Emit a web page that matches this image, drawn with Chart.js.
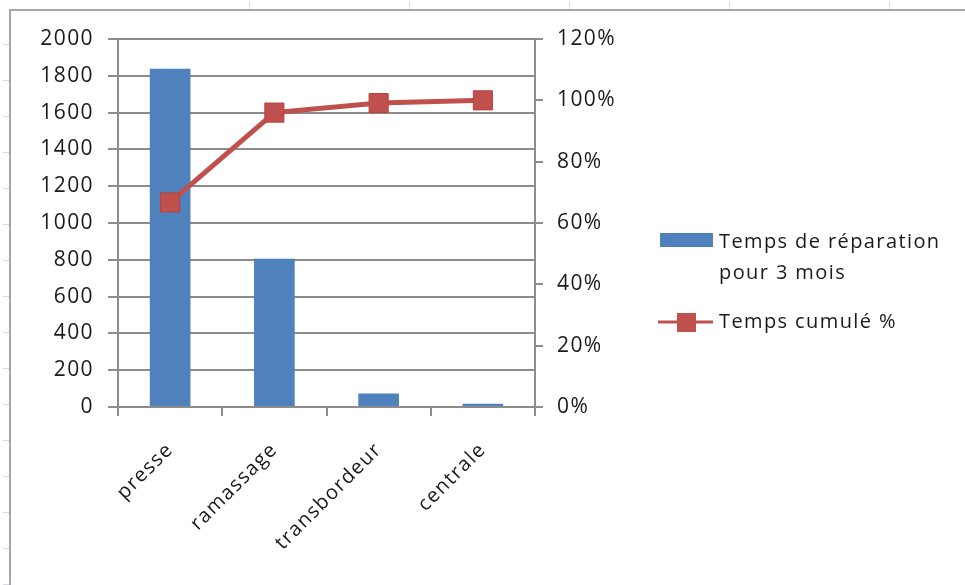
<!DOCTYPE html>
<html>
<head>
<meta charset="utf-8">
<script src="https://cdn.jsdelivr.net/npm/chart.js@4"></script>
<style>
  html, body { margin: 0; padding: 0; background: #fff; }
  #wrap { width: 965px; height: 585px; position: relative; }
</style>
</head>
<body>
<div id="wrap"><canvas id="diagram" width="965" height="585"></canvas></div>
<script>
const categories = ["presse", "ramassage", "transbordeur", "centrale"];
const repairTime = [1838, 806, 74, 18];
const cumulPercent = [66.7, 96.0, 99.1, 100];
const leftTicks = [0, 200, 400, 600, 800, 1000, 1200, 1400, 1600, 1800, 2000];
const rightTicks = [0, 20, 40, 60, 80, 100, 120];

const barLabel = ["Temps de réparation", "pour 3 mois"];
const lineLabel = "Temps cumulé %";

const blue = "#4F81BD";
const red = "#C0504D";
const axisGray = "#8c8c8c";
const textColor = "#1a1a1a";
const font = "'Open Sans', sans-serif";
const fontSize = 20;
const tickSize = 21;
const spacing = "1.4px";

// sheet background: cell marks and the chart frame
const sheetPlugin = {
    id: "sheet",
    beforeInit(chart) {
        chart.ctx.letterSpacing = spacing;
    },
    beforeDraw(chart) {
        const c = chart.ctx;
        c.letterSpacing = spacing;
        c.save();
        c.fillStyle = "#fff";
        c.fillRect(0, 0, chart.width, chart.height);
        c.strokeStyle = "#d4dae6";
        c.lineWidth = 1;
        for (let x = 249; x < 965; x += 160) {
            c.beginPath(); c.moveTo(x + 0.5, 2); c.lineTo(x + 0.5, 10); c.stroke();
        }
        for (let y = 44; y < 585; y += 36) {
            c.beginPath(); c.moveTo(3, y + 0.5); c.lineTo(9, y + 0.5); c.stroke();
        }
        c.strokeStyle = "#a6a6a6";
        c.lineWidth = 2;
        c.beginPath();
        c.moveTo(10, 585); c.lineTo(10, 10); c.lineTo(965, 10);
        c.stroke();
        c.restore();
    },
};

// legend drawn by hand so the first label can wrap
const legendPlugin = {
    id: "sideLegend",
    afterDraw(chart) {
        const c = chart.ctx;
        c.save();
        c.font = fontSize + "px " + font;
        c.textBaseline = "middle";
        c.textAlign = "left";
        c.fillStyle = blue;
        c.fillRect(660, 233, 53, 14);
        c.fillStyle = textColor;
        c.fillText(barLabel[0], 719, 242);
        c.fillText(barLabel[1], 719, 273);
        c.strokeStyle = red;
        c.lineWidth = 3;
        c.beginPath(); c.moveTo(658, 322); c.lineTo(713, 322); c.stroke();
        c.fillStyle = red;
        c.fillRect(677, 313, 19, 19);
        c.fillStyle = textColor;
        c.fillText(lineLabel, 719, 322);
        c.restore();
    },
};

new Chart(document.getElementById("diagram"), {
    data: {
        labels: categories,
        datasets: [
            {
                type: "line",
                label: lineLabel,
                data: cumulPercent,
                yAxisID: "y1",
                borderColor: red,
                backgroundColor: red,
                borderWidth: 5,
                pointStyle: "rect",
                pointRadius: 13.5,
                pointBorderWidth: 1,
                pointBackgroundColor: red,
                pointBorderColor: "#b9413e",
                tension: 0,
                order: 0,
            },
            {
                type: "bar",
                label: barLabel.join(" "),
                data: repairTime,
                yAxisID: "y",
                backgroundColor: blue,
                borderWidth: 0,
                categoryPercentage: 1,
                barPercentage: 0.39,
                order: 1,
            },
        ],
    },
    options: {
        responsive: false,
        animation: false,
        devicePixelRatio: 1,
        layout: { padding: { top: 39, right: 0, bottom: 0, left: 0 } },
        plugins: {
            legend: { display: false },
            tooltip: { enabled: false },
        },
        scales: {
            x: {
                offset: true,
                grid: {
                    offset: true,
                    drawOnChartArea: false,
                    drawTicks: true,
                    tickLength: 9,
                    color: axisGray,
                    lineWidth: 2,
                },
                border: { color: axisGray, width: 2 },
                ticks: {
                    color: textColor,
                    font: { family: font, size: fontSize },
                    minRotation: 45,
                    maxRotation: 45,
                    padding: 22,
                },
                afterFit(scale) { scale.height = 178; },
            },
            y: {
                position: "left",
                min: 0,
                max: 2000,
                afterBuildTicks(scale) { scale.ticks = leftTicks.map(v => ({ value: v })); },
                grid: { color: axisGray, lineWidth: 2, tickLength: 10 },
                border: { color: axisGray, width: 2 },
                ticks: {
                    color: textColor,
                    font: { family: font, size: tickSize },
                    padding: 14,
                    callback: v => String(v),
                },
                afterFit(scale) { scale.width = 118; },
            },
            y1: {
                position: "right",
                min: 0,
                max: 120,
                afterBuildTicks(scale) { scale.ticks = rightTicks.map(v => ({ value: v })); },
                grid: { drawOnChartArea: false, color: axisGray, lineWidth: 2, tickLength: 8 },
                border: { color: axisGray, width: 2 },
                ticks: {
                    color: textColor,
                    font: { family: font, size: tickSize },
                    padding: 14,
                    callback: v => v + "%",
                },
                afterFit(scale) { scale.width = 430; },
            },
        },
    },
    plugins: [sheetPlugin, legendPlugin],
});
</script>
</body>
</html>
